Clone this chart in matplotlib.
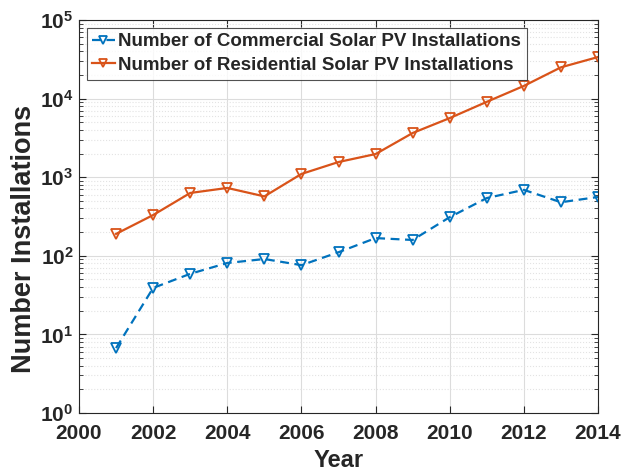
import matplotlib
matplotlib.use("Agg")
import matplotlib.pyplot as plt
from matplotlib.ticker import LogLocator, NullFormatter

plt.rcParams['font.family'] = ['Liberation Sans', 'DejaVu Sans']
plt.rcParams['font.weight'] = 'bold'

years = [2001, 2002, 2003, 2004, 2005, 2006, 2007, 2008, 2009, 2010, 2011, 2012, 2013, 2014]
commercial = [6.7, 39, 59, 81, 91, 76, 111, 168, 159, 310, 543, 690, 480, 560]
residential = [190, 330, 630, 730, 570, 1100, 1560, 1970, 3650, 5650, 9100, 14500, 25000, 33800]
xticks = [2000, 2002, 2004, 2006, 2008, 2010, 2012, 2014]
labels = ['Number of Commercial Solar PV Installations',
          'Number of Residential Solar PV Installations']

fig = plt.figure(figsize=(6.21, 4.72), dpi=100)
ax = fig.add_axes([79/621, 1 - 413/472, (598-79)/621, (413-20)/472])

ax.plot(years, commercial, '--v', color='#0072BD', lw=1.6, ms=6.5, mfc='none', mew=1.3,
        dashes=(4, 2.5), label=labels[0])
ax.plot(years, residential, '-v', color='#D95319', lw=1.6, ms=6.5, mfc='none', mew=1.3,
        label=labels[1])

ax.set_yscale('log')
ax.set_xlim(2000, 2014)
ax.set_ylim(1, 1e5)
ax.set_xticks(xticks)
ax.set_xticklabels([str(t) for t in xticks])
ax.yaxis.set_major_locator(LogLocator(base=10, numticks=10))
ax.yaxis.set_minor_locator(LogLocator(base=10, subs=range(2, 10), numticks=20))
ax.yaxis.set_minor_formatter(NullFormatter())

ax.grid(True, which='major', color='#dcdcdc', lw=0.8, ls='-')
ax.grid(True, which='minor', axis='y', color='#e3e3e3', lw=0.8, ls=':')
ax.set_axisbelow(True)

ax.tick_params(which='both', direction='in', top=True, right=True, labelsize=15, colors='#262626')
ax.tick_params(axis='x', which='major', pad=8)
ax.tick_params(axis='y', which='major', pad=4)
ax.tick_params(which='major', length=5)
ax.tick_params(which='minor', length=3)
for s in ax.spines.values():
    s.set_color('#262626')
    s.set_linewidth(0.8)

ax.set_xlabel('Year', fontsize=17, fontweight='bold', color='#262626', labelpad=4)
ax.set_ylabel('Number Installations', fontsize=19.5, fontweight='bold', color='#262626', labelpad=2)
ax.yaxis.label.set_y(0.443)

leg = ax.legend(loc='upper left', fontsize=13.5, frameon=True, fancybox=False,
                edgecolor='#262626', handlelength=1.2, handletextpad=0.2,
                borderpad=0.3, labelspacing=0.35, borderaxespad=0.4, markerscale=0.9)
leg.get_frame().set_linewidth(0.8)
for t in leg.get_texts():
    t.set_fontweight('bold')
    t.set_color('#262626')

fig.savefig('out.png', dpi=100)
